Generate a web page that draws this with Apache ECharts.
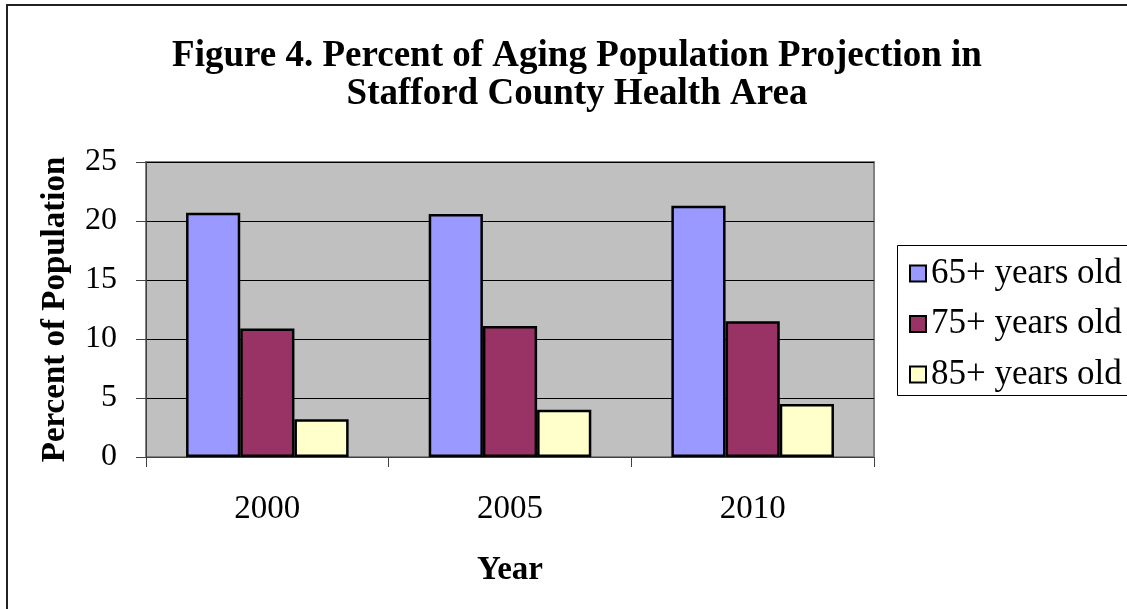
<!DOCTYPE html>
<html>
<head>
<meta charset="utf-8">
<script src="https://cdn.jsdelivr.net/npm/echarts@6/dist/echarts.min.js"></script>
<style>
  html, body { margin: 0; padding: 0; background: #fff; }
  #chart { width: 1127px; height: 609px; }
</style>
</head>
<body>
<div id="chart"></div>
<script>
var years = ['2000', '2005', '2010'];
var seriesNames = ['65+ years old', '75+ years old', '85+ years old'];
var age65 = [20.7, 20.6, 21.3];
var age75 = [10.9, 11.1, 11.5];
var age85 = [3.2, 4.0, 4.5];
var yTicks = { min: 0, max: 25, interval: 5 };

var font = 'Liberation Serif, Times New Roman, serif';
var colors = ['#9999ff', '#993366', '#ffffcc'];

function barSeries(name, data, color) {
    return {
        name: name,
        type: 'bar',
        data: data,
        barGap: '0%',
        barCategoryGap: '33%',
        itemStyle: {
            color: color,
            borderColor: '#000',
            borderWidth: 2.5
        }
    };
}

var option = {
    backgroundColor: '#fff',
    animation: false,
    textStyle: { fontFamily: font },
    title: {
        text: 'Figure 4. Percent of Aging Population Projection in\nStafford County Health Area',
        left: 572,
        top: 32,
        textAlign: 'center',
        textStyle: {
            fontFamily: font,
            fontWeight: 'bold',
            fontSize: 37,
            lineHeight: 38,
            color: '#000'
        }
    },
    legend: {
        orient: 'vertical',
        left: 897,
        top: 247,
        padding: [9, 0, 5, 12],
        itemWidth: 16,
        itemHeight: 16,
        itemGap: 15.5,
        icon: 'rect',
        data: seriesNames,
        textStyle: {
            fontFamily: font,
            fontSize: 35,
            color: '#000'
        }
    },
    grid: {
        left: 146,
        right: 253,
        top: 162,
        bottom: 152,
        show: true,
        backgroundColor: '#c0c0c0',
        borderColor: '#808080',
        borderWidth: 2
    },
    xAxis: {
        type: 'category',
        data: years,
        name: 'Year',
        nameLocation: 'middle',
        nameGap: 97,
        nameTextStyle: {
            fontFamily: font,
            fontWeight: 'bold',
            fontSize: 33,
            color: '#000'
        },
        axisLine: { lineStyle: { color: '#404040', width: 1 } },
        axisTick: { show: true, length: 10, lineStyle: { color: '#404040' } },
        axisLabel: {
            margin: 36,
            fontFamily: font,
            fontSize: 33,
            color: '#000'
        }
    },
    yAxis: {
        type: 'value',
        min: yTicks.min,
        max: yTicks.max,
        interval: yTicks.interval,
        name: 'Percent of Population',
        nameLocation: 'middle',
        nameGap: 74,
        nameTextStyle: {
            fontFamily: font,
            fontWeight: 'bold',
            fontSize: 33,
            color: '#000'
        },
        axisLine: { show: true, lineStyle: { color: '#404040', width: 1 } },
        axisTick: { show: true, length: 10, lineStyle: { color: '#404040' } },
        axisLabel: {
            margin: 29,
            fontFamily: font,
            fontSize: 32,
            color: '#000'
        },
        splitLine: { lineStyle: { color: '#000', width: 1 } }
    },
    graphic: [{
        type: 'rect',
        shape: { x: 7, y: 5, width: 1300, height: 800 },
        style: { fill: 'none', stroke: '#222', lineWidth: 2 },
        z: 100,
        silent: true
    }, {
        // legend frame runs off the right edge of the picture
        type: 'rect',
        shape: { x: 897.5, y: 245.5, width: 300, height: 150 },
        style: { fill: '#fff', stroke: '#000', lineWidth: 1 },
        z: 1,
        silent: true
    }],
    series: [
        barSeries(seriesNames[0], age65, colors[0]),
        barSeries(seriesNames[1], age75, colors[1]),
        barSeries(seriesNames[2], age85, colors[2])
    ]
};

var myChart = echarts.init(document.getElementById('chart'));
myChart.setOption(option);
</script>
</body>
</html>
